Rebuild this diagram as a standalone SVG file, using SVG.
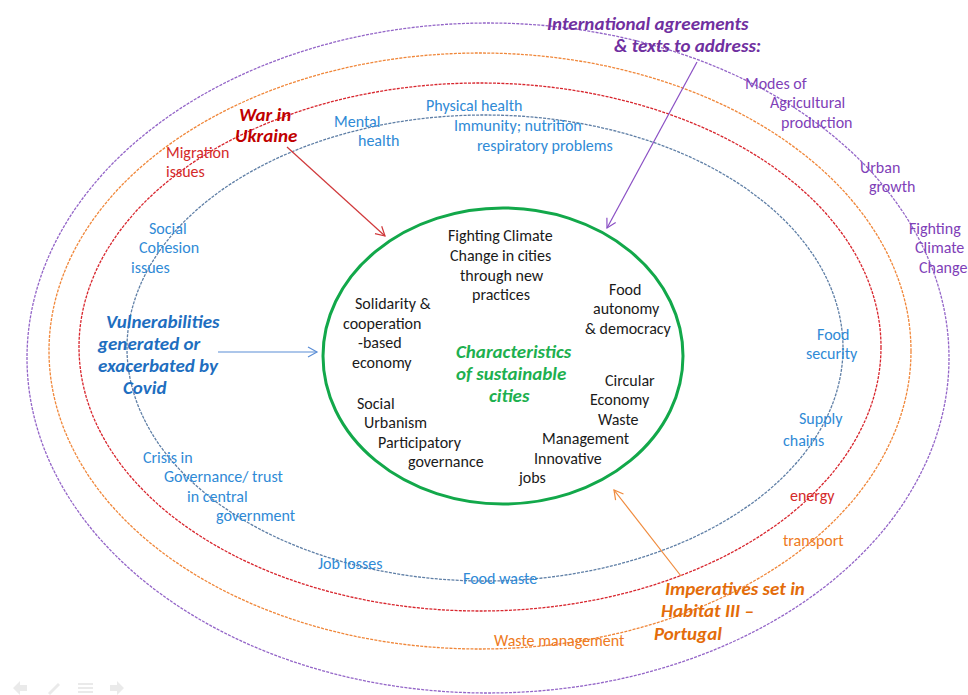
<svg xmlns="http://www.w3.org/2000/svg" width="968" height="695" viewBox="0 0 968 695">
  <style>
    text { font-family: Carlito, Lato, "Liberation Sans", sans-serif; font-size: 16px; }
    .ring { fill: none; stroke-width: 1.3; stroke-dasharray: 3 1.2; }
    .hd { font-weight: bold; font-style: italic; font-size: 19px; }
    .blue { fill: #2F8AD6; }
    .red { fill: #D42A2A; }
    .org { fill: #EE7A22; }
    .pur { fill: #7F3FB8; }
    .blk { fill: #1A1A1A; }
    .arrow { fill: none; stroke-width: 1.2; }
  </style>
  <defs>
    <marker id="ahRed" markerWidth="12" markerHeight="12" refX="10" refY="6" orient="auto" markerUnits="userSpaceOnUse">
      <path d="M1,1 L10,6 L1,11" fill="none" stroke="#D0383A" stroke-width="1.2"/>
    </marker>
    <marker id="ahPur" markerWidth="12" markerHeight="12" refX="10" refY="6" orient="auto" markerUnits="userSpaceOnUse">
      <path d="M1,1 L10,6 L1,11" fill="none" stroke="#8A4FC4" stroke-width="1.2"/>
    </marker>
    <marker id="ahBlu" markerWidth="12" markerHeight="12" refX="10" refY="6" orient="auto" markerUnits="userSpaceOnUse">
      <path d="M1,1 L10,6 L1,11" fill="none" stroke="#5B8ED6" stroke-width="1.2"/>
    </marker>
    <marker id="ahOrg" markerWidth="12" markerHeight="12" refX="10" refY="6" orient="auto" markerUnits="userSpaceOnUse">
      <path d="M1,1 L10,6 L1,11" fill="none" stroke="#F08A3C" stroke-width="1.2"/>
    </marker>
  </defs>
  <rect width="968" height="695" fill="#FFFFFF"/>

  <!-- concentric rings -->
  <g id="rings">
    <ellipse id="ring-international" class="ring" cx="488" cy="358" rx="461" ry="335" stroke="#9466C8"/>
    <ellipse id="ring-habitat" class="ring" cx="480" cy="351" rx="431" ry="298" stroke="#F0873A"/>
    <ellipse id="ring-war" class="ring" cx="480" cy="347" rx="401" ry="264" stroke="#D8262E"/>
    <ellipse id="ring-covid" class="ring" cx="485" cy="348" rx="358" ry="233" stroke="#5F7FA6"/>
  </g>

  <!-- core: characteristics of sustainable cities -->
  <g id="core">
    <ellipse cx="503" cy="356" rx="180" ry="148" fill="none" stroke="#12A84A" stroke-width="3"/>
    <text class="hd" x="456" y="358" fill="#1DB04F">Characteristics</text>
    <text class="hd" x="456" y="380" fill="#1DB04F">of sustainable</text>
    <text class="hd" x="489" y="402" fill="#1DB04F">cities</text>
    <text class="blk" x="448" y="241">Fighting Climate</text>
    <text class="blk" x="450" y="261">Change in cities</text>
    <text class="blk" x="460" y="281">through new</text>
    <text class="blk" x="472" y="300">practices</text>
    <text class="blk" x="609" y="295">Food</text>
    <text class="blk" x="593" y="314">autonomy</text>
    <text class="blk" x="585" y="334">&amp; democracy</text>
    <text class="blk" x="355" y="309">Solidarity &amp;</text>
    <text class="blk" x="343" y="329">cooperation</text>
    <text class="blk" x="358" y="348">-based</text>
    <text class="blk" x="352" y="368">economy</text>
    <text class="blk" x="357" y="409">Social</text>
    <text class="blk" x="364" y="428">Urbanism</text>
    <text class="blk" x="378" y="448">Participatory</text>
    <text class="blk" x="408" y="467">governance</text>
    <text class="blk" x="605" y="386">Circular</text>
    <text class="blk" x="590" y="405">Economy</text>
    <text class="blk" x="598" y="425">Waste</text>
    <text class="blk" x="542" y="444">Management</text>
    <text class="blk" x="534" y="464">Innovative</text>
    <text class="blk" x="519" y="483">jobs</text>
  </g>

  <!-- outer ring: international agreements -->
  <g id="international">
    <text class="hd" x="547" y="30" fill="#7030A0">International agreements</text>
    <text class="hd" x="614" y="52" fill="#7030A0">&amp; texts to address:</text>
    <text class="pur" x="745" y="89">Modes of</text>
    <text class="pur" x="770" y="108">Agricultural</text>
    <text class="pur" x="781" y="128">production</text>
    <text class="pur" x="860" y="173">Urban</text>
    <text class="pur" x="869" y="192">growth</text>
    <text class="pur" x="909" y="234">Fighting</text>
    <text class="pur" x="915" y="253">Climate</text>
    <text class="pur" x="919" y="273">Change</text>
  </g>

  <!-- habitat III ring -->
  <g id="habitat">
    <text class="hd" x="665" y="595" fill="#E36C0A">Imperatives set in</text>
    <text class="hd" x="661" y="617" fill="#E36C0A">Habitat III –</text>
    <text class="hd" x="654" y="640" fill="#E36C0A">Portugal</text>
    <text class="org" x="494" y="646">Waste management</text>
    <text class="org" x="783" y="546">transport</text>
  </g>

  <!-- war ring -->
  <g id="war">
    <text class="hd" x="239" y="121" fill="#C00000">War in</text>
    <text class="hd" x="235" y="142" fill="#C00000">Ukraine</text>
    <text class="red" x="166" y="158">Migration</text>
    <text class="red" x="166" y="177">issues</text>
    <text class="red" x="790" y="501">energy</text>
  </g>

  <!-- covid ring -->
  <g id="covid">
    <text class="hd" x="106" y="328" fill="#1E6EC0">Vulnerabilities</text>
    <text class="hd" x="98" y="350" fill="#1E6EC0">generated or</text>
    <text class="hd" x="98" y="372" fill="#1E6EC0">exacerbated by</text>
    <text class="hd" x="123" y="394" fill="#1E6EC0">Covid</text>
    <text class="blue" x="334" y="127">Mental</text>
    <text class="blue" x="358" y="146">health</text>
    <text class="blue" x="426" y="111">Physical health</text>
    <text class="blue" x="454" y="131">Immunity; nutrition</text>
    <text class="blue" x="477" y="151">respiratory problems</text>
    <text class="blue" x="149" y="234">Social</text>
    <text class="blue" x="139" y="253">Cohesion</text>
    <text class="blue" x="131" y="273">issues</text>
    <text class="blue" x="143" y="463">Crisis in</text>
    <text class="blue" x="164" y="482">Governance/ trust</text>
    <text class="blue" x="187" y="502">in central</text>
    <text class="blue" x="216" y="521">government</text>
    <text class="blue" x="318" y="569">Job losses</text>
    <text class="blue" x="463" y="584">Food waste</text>
    <text class="blue" x="817" y="340">Food</text>
    <text class="blue" x="806" y="359">security</text>
    <text class="blue" x="799" y="424">Supply</text>
    <text class="blue" x="783" y="446">chains</text>
  </g>

  <!-- connectors -->
  <g id="connectors">
    <line class="arrow" x1="287" y1="147" x2="385" y2="236" stroke="#D0383A" marker-end="url(#ahRed)"/>
    <line class="arrow" x1="697" y1="62" x2="607" y2="228" stroke="#8A4FC4" marker-end="url(#ahPur)"/>
    <line class="arrow" x1="218" y1="352" x2="317" y2="352" stroke="#5B8ED6" marker-end="url(#ahBlu)"/>
    <line class="arrow" x1="681" y1="576" x2="614" y2="490" stroke="#F08A3C" marker-end="url(#ahOrg)"/>
  </g>

  <!-- faint slideshow controls -->
  <g id="controls" fill="#E6E6E6" opacity="0.8">
    <path d="M13,688 L20,681 L20,685 L27,685 L27,691 L20,691 L20,695 Z"/>
    <path d="M48,693 L58,683 L60,685 L50,695 Z"/>
    <rect x="78" y="683" width="15" height="2"/>
    <rect x="78" y="687" width="15" height="2"/>
    <rect x="78" y="691" width="15" height="2"/>
    <path d="M124,688 L117,681 L117,685 L110,685 L110,691 L117,691 L117,695 Z"/>
  </g>
</svg>
